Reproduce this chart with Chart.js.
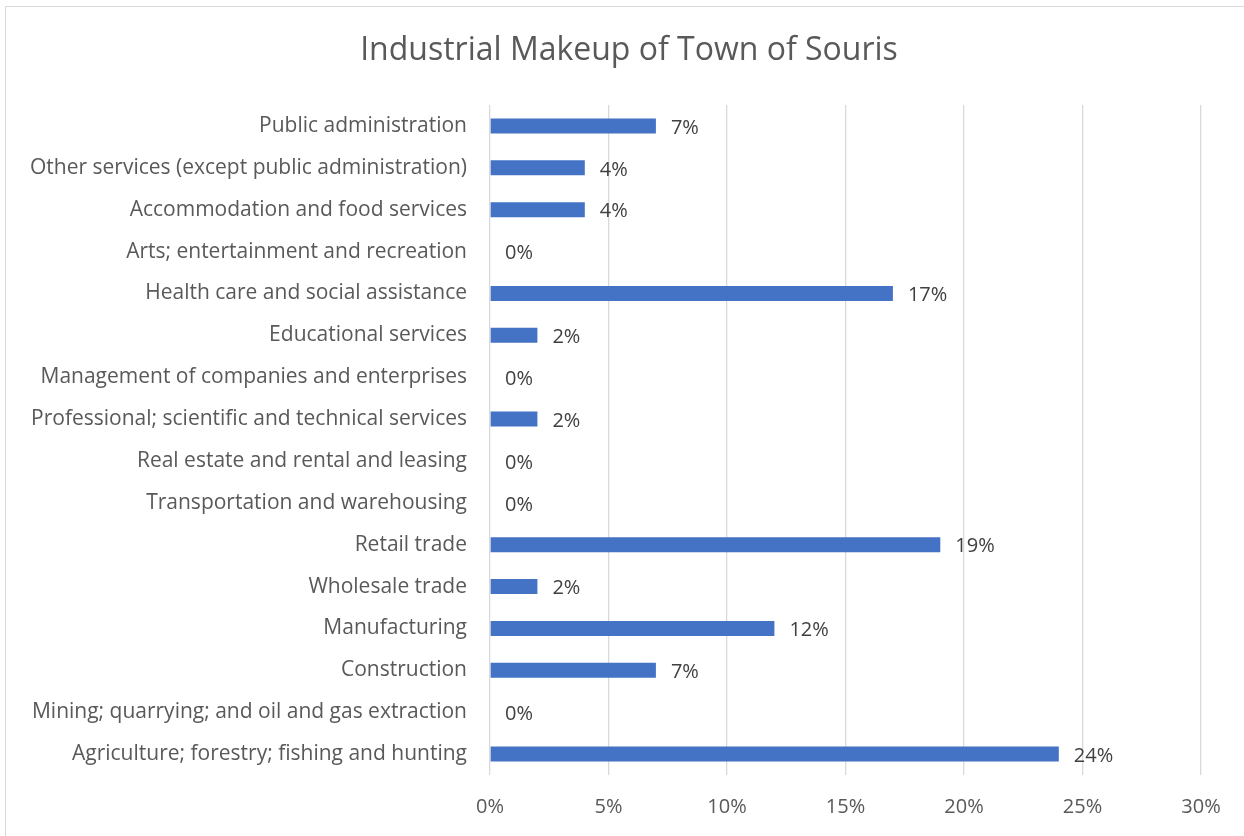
<!DOCTYPE html>
<html lang="en">
<head>
<meta charset="UTF-8">
<title>Industrial Makeup of Town of Souris</title>
<script src="https://cdn.jsdelivr.net/npm/chart.js@4.4.0/dist/chart.umd.min.js"></script>
<style>
  html, body { margin: 0; padding: 0; background: #fff; overflow: hidden; }
  #wrap { position: relative; width: 1244px; height: 836px; }
  #frame { position: absolute; left: 5px; top: 6px; width: 1260px; height: 860px;
           border-left: 1px solid #d9d9d9; border-top: 1px solid #d9d9d9; pointer-events: none; }
</style>
</head>
<body>
<div id="wrap">
  <canvas id="industry" width="1244" height="836"></canvas>
  <div id="frame"></div>
</div>
<script>
// categories, top to bottom as shown
var categories = [
  'Public administration',
  'Other services (except public administration)',
  'Accommodation and food services',
  'Arts; entertainment and recreation',
  'Health care and social assistance',
  'Educational services',
  'Management of companies and enterprises',
  'Professional; scientific and technical services',
  'Real estate and rental and leasing',
  'Transportation and warehousing',
  'Retail trade',
  'Wholesale trade',
  'Manufacturing',
  'Construction',
  'Mining; quarrying; and oil and gas extraction',
  'Agriculture; forestry; fishing and hunting'
]
// share of workforce, percent
var shares = [7, 4, 4, 0, 17, 2, 0, 2, 0, 0, 19, 2, 12, 7, 0, 24]
var xTicks = [0, 5, 10, 15, 20, 25, 30]

var chartTitle = 'Industrial Makeup of Town of Souris'
var fontFam = "'Open Sans', 'Noto Sans', sans-serif"

// value labels at the end of each bar
var barLabels = {
  id: 'barLabels',
  afterDatasetsDraw(chart) {
    var ctx = chart.ctx
    var meta = chart.getDatasetMeta(0)
    ctx.save()
    ctx.font = '20px ' + fontFam
    ctx.fillStyle = '#404040'
    ctx.textAlign = 'left'
    ctx.textBaseline = 'middle'
    meta.data.forEach(function (bar, i) {
      ctx.fillText(shares[i] + '%', bar.x + 15, bar.y + 2)
    })
    ctx.restore()
  }
}

// title centred on the whole frame (which runs past the right edge)
var frameTitle = {
  id: 'frameTitle',
  afterDraw(chart) {
    var ctx = chart.ctx
    ctx.save()
    ctx.font = '32px ' + fontFam
    ctx.fillStyle = '#595959'
    ctx.textAlign = 'center'
    ctx.textBaseline = 'middle'
    ctx.fillText(chartTitle, chart.width / 2 + 7, 51)
    ctx.restore()
  }
}

var chart = new Chart(document.getElementById('industry'), {
  type: 'bar',
  data: {
    labels: categories,
    datasets: [{
      data: shares,
      backgroundColor: '#4472c4',
      borderWidth: 0,
      categoryPercentage: 1,
      barPercentage: 0.36
    }]
  },
  options: {
    indexAxis: 'y',
    responsive: false,
    animation: false,
    layout: { padding: { left: 0, right: 43, top: 105, bottom: 0 } },
    plugins: {
      legend: { display: false },
      tooltip: { enabled: false },
      title: { display: false }
    },
    scales: {
      x: {
        min: 0,
        max: 30,
        afterBuildTicks: function (s) { s.ticks = xTicks.map(function (v) { return { value: v } }) },
        ticks: {
          color: '#595959',
          font: { family: fontFam, size: 20 },
          padding: 20,
          callback: function (v) { return v + '%' }
        },
        grid: { color: '#d9d9d9', lineWidth: 1.3, drawTicks: false },
        border: { display: false },
        afterFit: function (s) { s.height = 61 }
      },
      y: {
        ticks: {
          color: '#595959',
          font: { family: fontFam, size: 21 },
          padding: 23,
          autoSkip: false
        },
        grid: { display: false, drawTicks: false },
        border: { display: false },
        afterFit: function (s) { s.width = 490 }
      }
    }
  },
  plugins: [barLabels, frameTitle]
})
</script>
</body>
</html>
